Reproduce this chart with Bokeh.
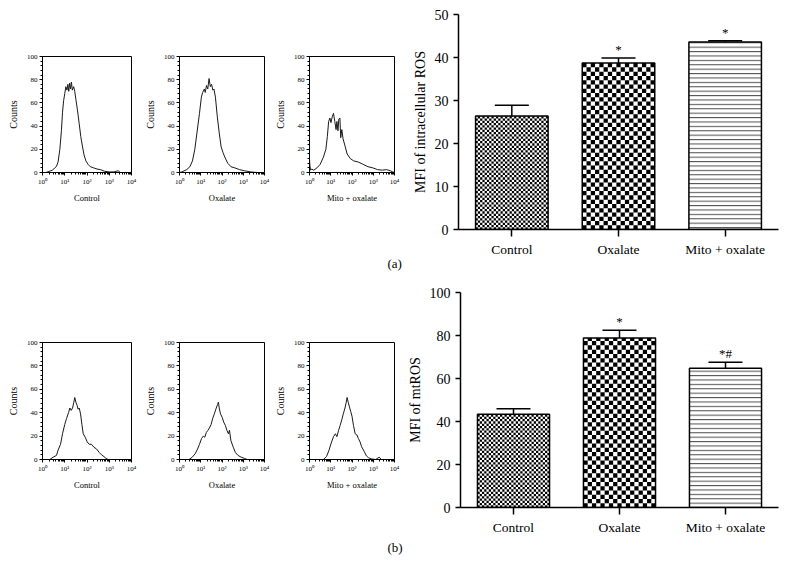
import numpy as np
from bokeh.plotting import figure
from bokeh.models import (Range1d, FactorRange, FixedTicker, SingleIntervalTicker,
                          Whisker, TeeHead, ColumnDataSource)
from bokeh.layouts import row, column
from bokeh.embed import file_html
from bokeh.resources import INLINE
from bokeh.core.properties import value

FONT = "Liberation Serif"

# ---------------- histogram data (log10 fluorescence, counts) ----------------
ctrl_a_dec = [0.00, 0.15, 0.30, 0.45, 0.55, 0.62, 0.70, 0.78, 0.85, 0.90, 0.95, 1.00, 1.05, 1.10,
              1.14, 1.18, 1.22, 1.26, 1.30, 1.34, 1.40, 1.45, 1.50, 1.57, 1.65, 1.72, 1.80, 1.87,
              1.95, 2.05, 2.15, 2.30, 2.45, 2.60, 2.80, 3.00, 3.20, 3.40, 3.50, 4.00]
ctrl_a_cnt = [0, 0, 1, 2, 4, 5, 9, 20, 36, 52, 62, 68, 74, 71, 76, 70, 77, 72, 78, 71, 74, 70, 63,
              54, 42, 31, 22, 15, 10, 7, 5, 4, 3, 2.5, 1, 0.5, 0.5, 1.5, 0, 0]

oxa_a_dec = [0.00, 0.11, 0.34, 0.49, 0.61, 0.72, 0.82, 0.94, 1.03, 1.09, 1.17, 1.21, 1.27, 1.33,
             1.39, 1.45, 1.51, 1.57, 1.62, 1.69, 1.78, 1.87, 1.96, 2.05, 2.15, 2.27, 2.42, 2.60,
             2.82, 3.05, 3.35, 3.65, 4.00]
oxa_a_cnt = [0, 0.5, 2.5, 5, 10, 20, 34, 51, 65, 69, 72, 69, 75, 72, 81, 74, 76, 71, 72, 65, 48,
             34, 22, 17, 12.5, 8, 5, 4, 2.5, 1.5, 0.5, 0, 0]

mito_a_dec = [0.00, 0.02, 0.05, 0.10, 0.20, 0.35, 0.50, 0.65, 0.77, 0.84, 0.90, 0.96, 1.01, 1.07,
              1.13, 1.19, 1.25, 1.29, 1.34, 1.38, 1.43, 1.47, 1.52, 1.58, 1.67, 1.77, 1.92, 2.08,
              2.30, 2.53, 2.75, 2.98, 3.20, 3.43, 3.62, 3.80, 3.92, 4.00]
mito_a_cnt = [12, 6, 2, 3, 2, 4, 7, 13, 20, 31, 44, 47, 43, 48, 51, 44, 37, 44, 36, 46, 47, 30,
              37, 29, 23, 16, 12, 10, 9, 7, 5, 4, 2.5, 2, 2.5, 1.5, 0.5, 0]

ctrl_b_dec = [0.33, 0.48, 0.63, 0.70, 0.81, 0.90, 1.00, 1.08, 1.17, 1.23, 1.29, 1.35, 1.41, 1.45,
              1.50, 1.56, 1.60, 1.65, 1.71, 1.77, 1.83, 1.92, 2.01, 2.10, 2.20, 2.31, 2.43, 2.55,
              2.65, 2.76, 2.85, 2.95]
ctrl_b_cnt = [0, 2, 3.5, 8, 13, 22, 30, 35, 40, 44, 42, 44, 49, 53, 49, 46, 43, 44, 39, 30, 22,
              19, 15, 13, 13, 10.5, 9, 6, 4, 2.5, 1, 0]

oxa_b_dec = [0.45, 0.60, 0.74, 0.85, 0.94, 1.04, 1.12, 1.19, 1.26, 1.34, 1.41, 1.49, 1.56, 1.64,
             1.71, 1.79, 1.83, 1.87, 1.93, 2.01, 2.08, 2.16, 2.23, 2.30, 2.35, 2.42, 2.53, 2.63,
             2.75, 2.90, 3.05, 3.20]
oxa_b_cnt = [0, 2, 5, 9, 13, 18, 20, 19, 23, 25, 27, 30, 35, 39, 43, 47, 49, 44, 39, 36, 32, 29,
             25, 22, 25, 16, 10.5, 6, 3.5, 2, 1, 0]

mito_b_dec = [0.65, 0.80, 0.92, 1.02, 1.13, 1.22, 1.29, 1.37, 1.44, 1.52, 1.59, 1.67, 1.73, 1.77,
              1.82, 1.88, 1.94, 2.00, 2.07, 2.15, 2.23, 2.30, 2.38, 2.45, 2.57, 2.68, 2.78, 2.90,
              3.12, 3.28, 3.38]
mito_b_cnt = [0, 2.5, 8, 14, 19.5, 22, 19.5, 25, 29, 34, 39, 44, 49, 53, 49, 45, 41, 37, 29, 22,
              21, 18, 15, 11, 7, 3, 1.5, 0.5, 0, 2, 0]

hist_labels = ["Control", "Oxalate", "Mito + oxalate"]
log_ticks = [1, 10, 100, 1000, 10000]
log_tick_labels = ["10\u2070", "10\u00b9", "10\u00b2", "10\u00b3", "10\u2074"]
count_ticks = [0, 20, 40, 60, 80, 100]

# ---------------- bar chart data ----------------
categories = ["Control", "Oxalate", "Mito + oxalate"]
ros_a_mean = [26.4, 38.7, 43.6]
ros_a_sem = [2.5, 1.2, 0.3]
ros_a_sig = ["", "*", "*"]
ros_b_mean = [43.4, 78.8, 64.8]
ros_b_sem = [2.5, 3.7, 2.8]
ros_b_sig = ["", "*", "*#"]
bar_patterns = ["fine_checker", "checker", "horizontal_line"]
panel_tags = ["(a)", "(b)"]


def hist(dec, cnt, xlabel, width, bl, br, height, bt, fh):
    bb = height - bt - fh
    p = figure(width=width, height=height, x_axis_type="log",
               x_range=Range1d(1, 10000), y_range=Range1d(0, 100),
               min_border_left=bl, min_border_right=br, min_border_top=bt, min_border_bottom=bb,
               output_backend="svg", toolbar_location=None, frame_align=False)
    p.line(x=10 ** np.array(dec), y=cnt, line_color="#1a1a1a", line_width=1)
    p.grid.visible = False
    p.outline_line_color = "black"
    p.outline_line_width = 1
    p.outline_line_alpha = 1
    minors = [m * 10 ** k for k in range(4) for m in range(2, 10)]
    p.xaxis.ticker = FixedTicker(ticks=log_ticks, minor_ticks=minors)
    p.xaxis.major_label_overrides = {t: l for t, l in zip(log_ticks, log_tick_labels)}
    p.yaxis.ticker = FixedTicker(ticks=count_ticks, minor_ticks=list(range(0, 101, 4)))
    p.xaxis.axis_label = xlabel
    p.yaxis.axis_label = "Counts"
    for ax in (p.xaxis[0], p.yaxis[0]):
        ax.axis_line_color = "black"
        ax.axis_line_width = 1
        ax.major_tick_out = 3
        ax.major_tick_in = 0
        ax.minor_tick_out = 2
        ax.minor_tick_in = 0
        ax.major_label_text_font = FONT
        ax.major_label_text_font_size = "7px"
        ax.major_label_text_color = "black"
        ax.major_label_standoff = 2
        ax.axis_label_text_font = FONT
        ax.axis_label_text_font_style = "normal"
        ax.axis_label_text_color = "black"
    p.xaxis.axis_label_text_font_size = "8.5px"
    p.xaxis.axis_label_standoff = 4
    p.yaxis.axis_label_text_font_size = "10px"
    p.yaxis.axis_label_standoff = 5
    return p


def tag_fig(tag, width, height, tx, ty):
    # small strip under the histograms that carries the panel tag
    p = figure(width=width, height=height, x_range=Range1d(0, width), y_range=Range1d(height, 0),
               min_border=0, x_axis_location=None, y_axis_location=None,
               output_backend="svg", toolbar_location=None, frame_align=False)
    p.grid.visible = False
    p.outline_line_color = None
    p.text(x=[tx], y=[ty], text=[tag], text_font=value(FONT), text_font_size="13px",
           text_color="black", text_baseline="middle", text_align="left")
    return p


def checker_cells(xc, top, bar_w, ncols, px_x, px_y):
    cw = bar_w / ncols
    ch = cw * px_x / px_y
    nrows = int(np.ceil(top / ch))
    L, R, B, T = [], [], [], []
    for j in range(nrows):
        for i in range(ncols):
            if (i + j) % 2 == 0:
                L.append(xc - bar_w / 2 + i * cw)
                R.append(xc - bar_w / 2 + (i + 1) * cw)
                B.append(j * ch)
                T.append(min((j + 1) * ch, top))
    return L, R, B, T


def bars(means, sems, sigs, ylabel, ymax, height, bt):
    fw, fh, bl, br = 320, 215, 54, 2
    bb = height - bt - fh
    p = figure(width=fw + bl + br, height=height, x_range=FactorRange(*categories),
               y_range=Range1d(0, ymax),
               min_border_left=bl, min_border_right=br, min_border_top=bt, min_border_bottom=bb,
               output_backend="svg", toolbar_location=None, frame_align=False)
    p.grid.visible = False
    p.outline_line_color = None
    bar_w = 0.68
    xs = np.arange(len(categories)) + 0.5
    upper = [m + s for m, s in zip(means, sems)]
    hatch = ["horizontal_line" if b == "horizontal_line" else " " for b in bar_patterns]
    src = ColumnDataSource(dict(x=categories, top=means, upper=upper, sig=sigs, hatch=hatch))
    p.vbar(x="x", top="top", width=bar_w, source=src, fill_color="white", line_color=None,
           hatch_pattern="hatch", hatch_color="#4a4a4a", hatch_scale=4.4, hatch_weight=1)
    px_x = fw / len(categories)
    px_y = fh / ymax
    L, R, B, T = [], [], [], []
    for xc, m, pat in zip(xs, means, bar_patterns):
        if pat == "fine_checker":
            c = checker_cells(xc, m, bar_w, 32, px_x, px_y)
        elif pat == "checker":
            c = checker_cells(xc, m, bar_w, 17, px_x, px_y)
        else:
            continue
        L += c[0]; R += c[1]; B += c[2]; T += c[3]
    p.quad(left=L, right=R, bottom=B, top=T, fill_color="black", line_color=None)
    p.vbar(x="x", top="top", width=bar_w, source=src, fill_color=None,
           line_color="black", line_width=1.5)
    p.add_layout(Whisker(source=src, base="x", lower="top", upper="upper", dimension="height",
                         line_color="black", line_width=1.5,
                         upper_head=TeeHead(size=34, line_color="black", line_width=1.5),
                         lower_head=None))
    p.text(x="x", y="upper", text="sig", source=src, text_align="center",
           text_baseline="bottom", y_offset=-1, text_font=value(FONT),
           text_font_size="13px", text_color="black")
    p.yaxis.ticker = SingleIntervalTicker(interval=ymax / 5, num_minor_ticks=0)
    p.yaxis.axis_label = ylabel
    for ax in (p.xaxis[0], p.yaxis[0]):
        ax.axis_line_color = "black"
        ax.axis_line_width = 1.5
        ax.major_tick_in = 0
        ax.minor_tick_out = 0
        ax.minor_tick_in = 0
        ax.major_tick_line_width = 1.5
        ax.major_label_text_font = FONT
        ax.major_label_text_color = "black"
        ax.axis_label_text_font = FONT
        ax.axis_label_text_font_size = "14px"
        ax.axis_label_text_font_style = "normal"
        ax.axis_label_text_color = "black"
    p.yaxis.major_tick_out = 5
    p.yaxis.major_label_text_font_size = "14px"
    p.yaxis.major_label_standoff = 5
    p.yaxis.axis_label_standoff = 4
    p.xaxis.major_tick_out = 7
    p.xaxis.major_label_text_font_size = "13.5px"
    p.xaxis.major_label_standoff = 5
    return p


M = 8  # page margin (the page template has none)
HA, HB = 272 + M, 276          # heights of the two rows
HHA, HHB = 205, 212            # heights of the histogram strips
h1 = hist(ctrl_a_dec, ctrl_a_cnt, hist_labels[0], 133 + M, 34 + M, 10, HHA, 48 + M, 117)
h2 = hist(oxa_a_dec, oxa_a_cnt, hist_labels[1], 130, 34, 7, HHA, 48 + M, 117)
h3 = hist(mito_a_dec, mito_a_cnt, hist_labels[2], 133, 34, 10, HHA, 48 + M, 117)
ta = tag_fig(panel_tags[0], 133 + M + 130 + 133, HA - HHA, 387, 263 - HHA)
b1 = bars(ros_a_mean, ros_a_sem, ros_a_sig, "MFI of intracellular ROS", 50, HA, 6 + M)

h4 = hist(ctrl_b_dec, ctrl_b_cnt, hist_labels[0], 133 + M, 34 + M, 10, HHB, 62, 118)
h5 = hist(oxa_b_dec, oxa_b_cnt, hist_labels[1], 130, 34, 7, HHB, 62, 118)
h6 = hist(mito_b_dec, mito_b_cnt, hist_labels[2], 133, 34, 10, HHB, 62, 118)
tb = tag_fig(panel_tags[1], 133 + M + 130 + 133, HB - HHB, 387, 547 - HA - HHB)
b2 = bars(ros_b_mean, ros_b_sem, ros_b_sig, "MFI of mtROS", 100, HB, 12)

layout = column(
    row(column(row(h1, h2, h3), ta), b1),
    row(column(row(h4, h5, h6), tb), b2),
)
open("out.html", "w").write(file_html(layout, INLINE))
